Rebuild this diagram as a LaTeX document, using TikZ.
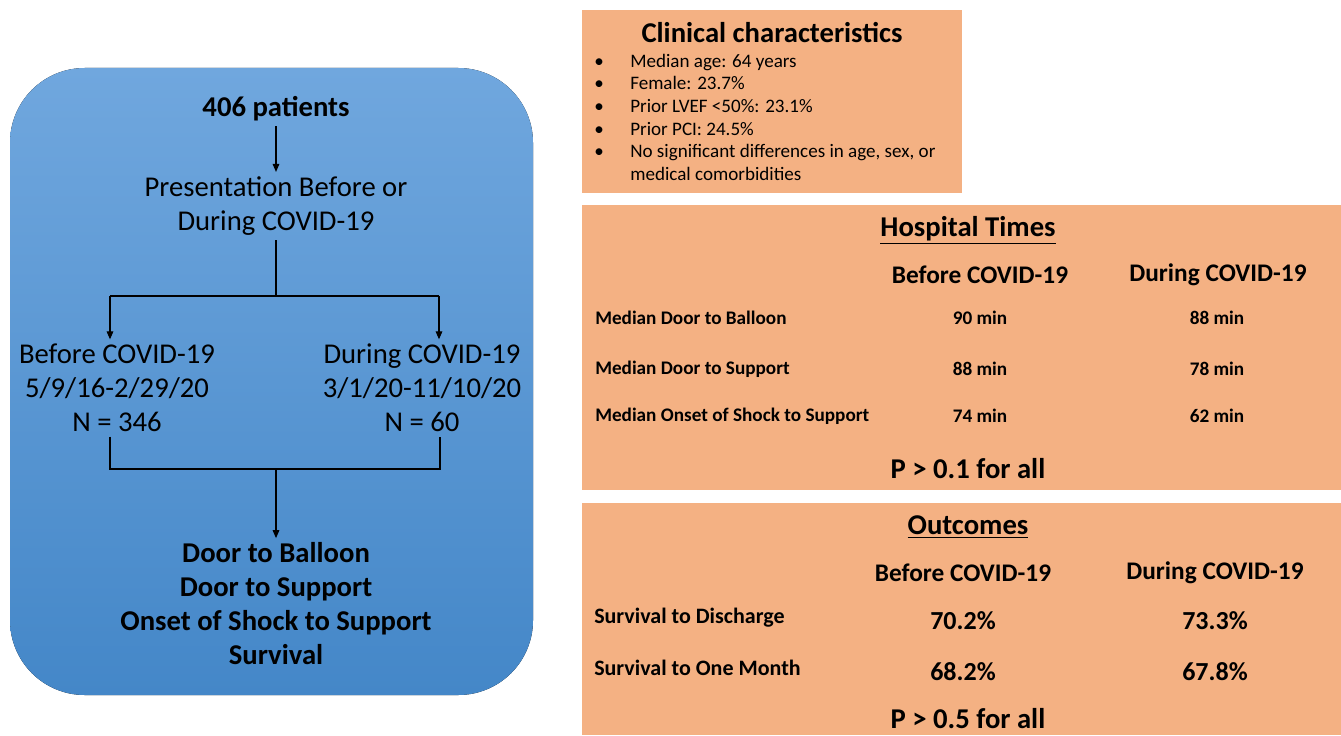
\documentclass[tikz,border=0pt]{standalone}
\usepackage{fontspec}
\setmainfont{Carlito}
\usepackage{xcolor}
\usetikzlibrary{positioning,arrows.meta}

\definecolor{boxtop}{RGB}{112,167,222}
\definecolor{boxbot}{RGB}{68,135,200}
\definecolor{panelorange}{RGB}{244,177,131}

\begin{document}
\begin{tikzpicture}[
    x=0.75pt, y=-0.75pt,
    flow/.style = {align=center, font=\fontsize{21.5}{25.5}\selectfont},
    flowbold/.style = {flow, font=\bfseries\fontsize{21.5}{25.5}\selectfont},
    panel/.style = {rectangle, fill=panelorange, draw=none},
    title/.style = {font=\bfseries\fontsize{21.5}{24}\selectfont},
    colhead/.style = {font=\bfseries\fontsize{19}{22}\selectfont},
    rowlabel/.style = {anchor=west, inner sep=0pt, font=\bfseries\fontsize{14.4}{17}\selectfont},
    biglabel/.style = {rowlabel, font=\bfseries\fontsize{16.5}{19}\selectfont},
    cellval/.style = {font=\bfseries\fontsize{14.4}{17}\selectfont},
    bigval/.style = {font=\bfseries\fontsize{19.5}{22}\selectfont},
    arrow/.style = {-{Triangle[length=6pt,width=5pt]}, line width=0.8pt},
    link/.style = {line width=0.8pt}
]
\useasboundingbox (0,0) rectangle (1341,735);

% Flow chart panel
\fill[top color=boxtop, bottom color=boxbot, rounded corners=56pt] (10,68) rectangle (533,695);

\node[flowbold] (patients) at (276,109) {406 patients};
\node[flow] (pres) at (276,206) {Presentation Before or\\During COVID-19};
\node[flow] (before) at (117,388) {Before COVID-19\\5/9/16-2/29/20\\N = 346};
\node[flow] (during) at (422,388) {During COVID-19\\3/1/20-11/10/20\\N = 60};
\node[flowbold] (result) at (276,604) {Door to Balloon\\Door to Support\\Onset of Shock to Support\\Survival};

\coordinate (split) at (276,296);
\coordinate (splitL) at (110,296);
\coordinate (splitR) at (439,296);
\coordinate (join) at (276,469);
\coordinate (joinL) at (110,469);
\coordinate (joinR) at (440,469);

% Arrows
\draw[arrow] (patients) -- (pres);
\draw[link] (pres.south) -- (split);
\draw[link] (splitL) -- (splitR);
\draw[arrow] (splitL) -- (splitL |- before.north);
\draw[arrow] (splitR) -- (splitR |- during.north);
\draw[link] (joinL |- before.south) -- (joinL) -- (joinR) -- (joinR |- during.south);
\draw[arrow] (join) -- (result);

% Clinical characteristics
\fill[panelorange] (582,10) rectangle (962,193);
\node[title] (clintitle) at (772,33) {Clinical characteristics};
\node[anchor=north west, inner sep=0pt, font=\fontsize{14.3}{17}\selectfont] (clinlist) at (594,51) {%
  \begin{tabular}{@{}p{27pt}@{}l@{}}
  \textbullet & Median age: 64 years\\
  \textbullet & Female: 23.7\%\\
  \textbullet & Prior LVEF <50\%: 23.1\%\\
  \textbullet & Prior PCI: 24.5\%\\
  \textbullet & No significant differences in age, sex, or\\
              & medical comorbidities
  \end{tabular}};

% Hospital times
\fill[panelorange] (582,205) rectangle (1341,490);
\node[title] (hosptitle) at (968,230) {\underline{Hospital Times}};
\node[colhead] (hbefore) at (980,275) {Before COVID-19};
\node[colhead] (hduring) at (1218,275) {During COVID-19};
\node[rowlabel] (hrow1) at (595,318) {Median Door to Balloon};
\node[rowlabel] (hrow2) at (595,369) {Median Door to Support};
\node[rowlabel] (hrow3) at (595,416) {Median Onset of Shock to Support};
\node[cellval] (hb1) at (980,318) {90 min};
\node[cellval] (hd1) at (1217,318) {88 min};
\node[cellval] (hb2) at (980,369) {88 min};
\node[cellval] (hd2) at (1217,369) {78 min};
\node[cellval] (hb3) at (980,416) {74 min};
\node[cellval] (hd3) at (1217,416) {62 min};
\node[title] (hpval) at (968,469) {P > 0.1 for all};

% Outcomes
\fill[panelorange] (582,503) rectangle (1341,735);
\node[title] (outtitle) at (968,527) {\underline{Outcomes}};
\node[colhead] (obefore) at (963,573) {Before COVID-19};
\node[colhead] (oduring) at (1215,573) {During COVID-19};
\node[biglabel] (orow1) at (594,618) {Survival to Discharge};
\node[biglabel] (orow2) at (594,668) {Survival to One Month};
\node[bigval] (ob1) at (963,621) {70.2\%};
\node[bigval] (od1) at (1215,621) {73.3\%};
\node[bigval] (ob2) at (963,672) {68.2\%};
\node[bigval] (od2) at (1215,672) {67.8\%};
\node[title, inner sep=1pt] (opval) at (968,719) {P > 0.5 for all};

\end{tikzpicture}
\end{document}
